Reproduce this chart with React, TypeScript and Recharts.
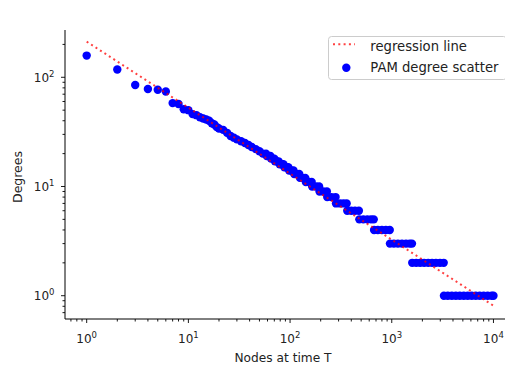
import React from 'react';
import { ComposedChart, Scatter, Line, XAxis, YAxis, Legend, Label } from 'recharts';

// first ranks, where every node has its own degree
const headRanks = [1, 2, 3, 4, 5, 6, 7, 8, 9, 10, 11, 12, 13, 14, 15, 16, 17, 18, 19, 20, 22, 24, 26, 28, 30, 33, 36, 39, 42, 46, 50];
const headDegrees = [158, 118, 85, 78, 77, 74, 58, 57, 51, 50, 46, 45, 43, 42, 41, 40, 38, 37, 35, 34, 33, 31, 29, 28, 27, 26, 25, 24, 23, 22, 21];

// lower degrees repeat over a run of ranks (the flat steps)
const stepDegrees = [20, 19, 18, 17, 16, 15, 14, 13, 12, 11, 10, 9, 8, 7, 6, 5, 4, 3, 2, 1];
const stepRanks = [
  [54, 58],
  [59, 64],
  [65, 70],
  [71, 74, 77],
  [79, 83, 86],
  [88, 92, 96],
  [98, 103, 108],
  [110, 116, 123],
  [125, 133, 141],
  [143, 153, 163],
  [165, 180, 193],
  [195, 212, 230],
  [232, 255, 280],
  [283, 310, 335, 360],
  [365, 400, 435, 475],
  [480, 525, 575, 625, 665],
  [670, 730, 800, 875, 955],
  [960, 1050, 1150, 1260, 1380, 1500, 1580],
  [1590, 1740, 1900, 2080, 2280, 2490, 2720, 2980, 3240],
  [3260, 3560, 3900, 4270, 4670, 5110, 5590, 6120, 6700, 7330, 8020, 8780, 9600, 10000],
];

// fitted line end points
const fitX = [1, 10000];
const fitY = [212, 0.81];

const xTicks = [0.7, 0.8, 0.9, 1, 2, 3, 4, 5, 6, 7, 8, 9, 10, 20, 30, 40, 50, 60, 70, 80, 90, 100, 200, 300, 400, 500, 600, 700, 800, 900, 1000, 2000, 3000, 4000, 5000, 6000, 7000, 8000, 9000, 10000];
const yTicks = [0.7, 0.8, 0.9, 1, 2, 3, 4, 5, 6, 7, 8, 9, 10, 20, 30, 40, 50, 60, 70, 80, 90, 100, 200];

const points = [
  ...headRanks.map((r, i) => ({ x: r, y: headDegrees[i] })),
  ...stepDegrees.flatMap((d, i) => stepRanks[i].map(r => ({ x: r, y: d }))),
];
const fitLine = fitX.map((x, i) => ({ x, y: fitY[i] }));

const FONT = 'DejaVu Sans';

const exponent = (v: number) => {
  const e = Math.log10(v);
  return Math.abs(e - Math.round(e)) < 1e-9 ? Math.round(e) : null;
};

const XTick = (props: any) => {
  const { x, y, payload } = props;
  const e = exponent(payload.value);
  return (
    <g>
      <line x1={x} x2={x} y1={y} y2={y + (e !== null ? 4 : 2.5)} stroke="#000" strokeWidth={0.9} />
      {e !== null && (
        <text x={x} y={y + 24} textAnchor="middle" fontSize={12} fontFamily={FONT} fill="#222">
          10<tspan dy={-5} fontSize={8.5}>{e}</tspan>
        </text>
      )}
    </g>
  );
};

const YTick = (props: any) => {
  const { x, y, payload } = props;
  const e = exponent(payload.value);
  return (
    <g>
      <line x1={x - (e !== null ? 4 : 2.5)} x2={x} y1={y} y2={y} stroke="#000" strokeWidth={0.9} />
      {e !== null && (
        <text x={x - 10.5} y={y + 4.3} textAnchor="end" fontSize={12} fontFamily={FONT} fill="#222">
          10<tspan dy={-5} fontSize={8.5}>{e}</tspan>
        </text>
      )}
    </g>
  );
};

const LegendBox = () => (
  <svg width={180} height={45} style={{ display: 'block' }}>
    <rect x={0.5} y={0.5} width={178} height={43} rx={3} fill="#fff" fillOpacity={0.8} stroke="#cccccc" />
    <line x1={5} x2={27} y1={8.3} y2={8.3} stroke="#ff0000" strokeOpacity={0.75} strokeWidth={2} strokeDasharray="2 3.3" />
    <text x={42.3} y={14.5} fontSize={13.2} fontFamily={FONT} fill="#222">regression line</text>
    <circle cx={18.3} cy={31.7} r={4.2} fill="#0000ff" />
    <text x={42.3} y={35.5} fontSize={13.2} fontFamily={FONT} fill="#222">PAM degree scatter</text>
  </svg>
);

const App: React.FC = () => {
  return (
    <div style={{ position: 'absolute', left: 0, top: 0, width: 505, height: 369, overflow: 'hidden', background: '#fff' }}>
      <ComposedChart width={510} height={369} margin={{ top: 30, right: 2, bottom: 0, left: 0 }}>
        <XAxis
          dataKey="x"
          type="number"
          scale="log"
          domain={[0.612, 13900]}
          allowDataOverflow
          ticks={xTicks}
          interval={0}
          tickSize={0}
          tickMargin={0}
          tick={<XTick />}
          height={50}
          axisLine={{ stroke: '#000', strokeWidth: 1 }}
        >
          <Label
            content={() => (
              <text x={283} y={361.5} textAnchor="middle" fontSize={12.2} fontFamily={FONT} fill="#222">
                Nodes at time T
              </text>
            )}
          />
        </XAxis>
        <XAxis
          xAxisId="top"
          dataKey="x"
          type="number"
          scale="log"
          domain={[0.612, 13900]}
          orientation="top"
          height={0}
          tick={false}
          tickLine={false}
          axisLine={{ stroke: '#000', strokeWidth: 1 }}
        >
          <Label
            content={() => (
              <text x={288} y={19.5} textAnchor="middle" fontSize={15.8} fontFamily={FONT} fill="#222">
                PAM Degree scatter
              </text>
            )}
          />
        </XAxis>
        <YAxis
          dataKey="y"
          type="number"
          scale="log"
          domain={[0.612, 271]}
          allowDataOverflow
          ticks={yTicks}
          interval={0}
          tickSize={0}
          tickMargin={0}
          tick={<YTick />}
          width={65}
          axisLine={{ stroke: '#000', strokeWidth: 1 }}
        >
          <Label
            content={() => (
              <text transform="translate(21.5,177) rotate(-90)" textAnchor="middle" fontSize={12.5} fontFamily={FONT} fill="#222">
                Degrees
              </text>
            )}
          />
        </YAxis>
        <Scatter
          data={points}
          dataKey="y"
          isAnimationActive={false}
          zIndex={300}
          shape={(p: any) => <circle cx={p.cx} cy={p.cy} r={4.2} fill="#0000ff" />}
        />
        <Line
          data={fitLine}
          dataKey="y"
          type="linear"
          dot={false}
          activeDot={false}
          stroke="#ff0000"
          strokeOpacity={0.75}
          strokeWidth={2}
          strokeDasharray="2 3.3"
          zIndex={700}
          isAnimationActive={false}
        />
        <Legend
          layout="vertical"
          align="center"
          verticalAlign="middle"
          wrapperStyle={{ left: 328, top: 36, width: 180 }}
          content={() => <LegendBox />}
        />
      </ComposedChart>
    </div>
  );
};

export default App;
